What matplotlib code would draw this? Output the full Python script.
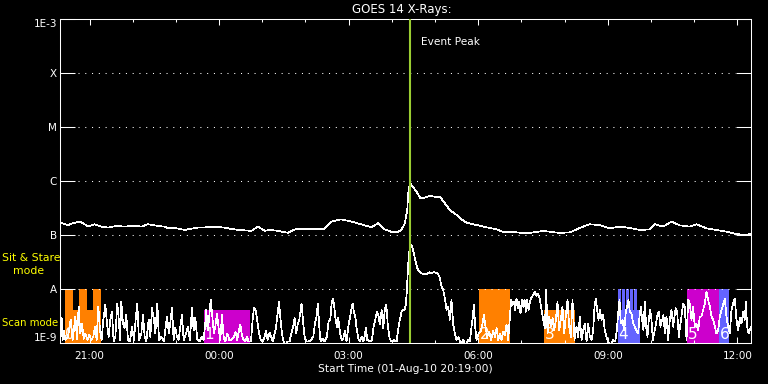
import matplotlib
matplotlib.use("Agg")
import matplotlib.pyplot as plt
from matplotlib.ticker import NullLocator
import numpy as np

# time axis: minutes after start (01-Aug-10 20:19:00)
# GOES long channel (1-8 A), flux in units of 1e-7 W/m^2
long_t = [0, 6.5, 11.1, 18.1, 27.3, 34.3, 38.9, 48.1, 57.4, 66.7,
          78.3, 89.8, 103.7, 113.0, 122.2, 136.1, 145.4, 150.0, 161.6, 173.2,
          182.4, 191.7, 205.6, 214.8, 228.7, 238.0, 249.6, 256.5, 265.8, 275.0,
          284.3, 293.5, 302.8, 316.7, 325.9, 335.2, 344.5, 358.4, 367.6, 376.9,
          390.8, 404.7, 418.5, 432.4, 441.7, 451.0, 460.2, 469.5, 474.1, 476.8,
          479.1, 482.4, 483.8, 486.1, 488.4, 495.4, 500.9, 506.9, 513.9, 520.8,
          527.8, 534.7, 541.7, 550.9, 557.9, 564.8, 578.7, 592.6, 606.5, 615.7,
          625.0, 634.2, 648.1, 662.0, 671.3, 680.6, 694.4, 708.3, 717.6, 726.9,
          736.1, 750.0, 763.9, 777.8, 791.7, 805.6, 819.4, 826.4, 838.0, 849.5,
          861.1, 875.0, 884.3, 898.1, 912.0, 925.9, 939.8, 956.0, 957.4, 960]
long_b = [1.70, 1.60, 1.53, 1.65, 1.77, 1.58, 1.43, 1.58, 1.43, 1.37,
          1.47, 1.43, 1.49, 1.43, 1.58, 1.47, 1.43, 1.33, 1.33, 1.24,
          1.31, 1.37, 1.39, 1.43, 1.37, 1.29, 1.24, 1.22, 1.19, 1.43,
          1.20, 1.24, 1.19, 1.10, 1.27, 1.31, 1.31, 1.27, 1.31, 1.77,
          1.95, 1.77, 1.58, 1.39, 1.65, 1.27, 1.15, 1.15, 1.24, 1.43,
          1.65, 2.90, 5.92, 9.06, 8.43, 6.34, 4.78, 4.95, 5.27, 5.12,
          5.12, 3.86, 2.90, 2.35, 1.95, 1.69, 1.53, 1.39, 1.27, 1.14,
          1.15, 1.12, 1.07, 1.14, 1.19, 1.15, 1.09, 1.12, 1.27, 1.43,
          1.58, 1.53, 1.33, 1.43, 1.35, 1.24, 1.27, 1.58, 1.43, 1.77,
          1.51, 1.43, 1.58, 1.33, 1.24, 1.15, 1.04, 1.00, 1.07, 1.00]

# GOES short channel (0.5-4 A), flux in units of 1e-9 W/m^2
short_t = [0, 0.9, 2.3, 3.7, 5.6, 7.4, 11.1, 14.8, 17.6, 21.3,
           23.6, 25.9, 28.2, 30.6, 32.9, 35.2, 38.0, 40.7, 43.5, 46.3,
           48.6, 50.9, 53.2, 55.6, 57.9, 60.2, 63.0, 65.3, 67.6, 69.9,
           72.2, 74.5, 76.9, 79.6, 81.9, 83.3, 85.2, 87.5, 89.8, 92.1,
           94.4, 97.2, 100.0, 102.8, 105.1, 107.4, 109.7, 113.0, 115.3, 117.6,
           119.9, 123.2, 125.5, 127.8, 130.6, 132.4, 135.2, 137.5, 140.7, 144.4,
           146.8, 148.6, 151.4, 153.7, 155.6, 157.9, 160.2, 162.5, 164.8, 167.1,
           169.4, 171.8, 174.5, 177.8, 180.5, 183.3, 185.7, 188.0, 190.8, 194.0,
           196.8, 199.5, 201.4, 203.3, 205.1, 207.0, 209.3, 211.6, 213.9, 215.7,
           218.1, 220.4, 222.7, 225.0, 227.3, 229.6, 232.4, 235.2, 238.4, 241.7,
           244.0, 246.3, 248.6, 250.5, 252.8, 255.1, 257.4, 259.7, 262.0, 265.3,
           267.6, 269.4, 271.7, 273.6, 275.9, 278.7, 281.5, 284.3, 286.1, 288.4,
           291.2, 293.5, 295.8, 298.1, 300.0, 302.3, 304.2, 306.0, 307.9, 309.7,
           312.5, 315.7, 319.0, 321.3, 323.6, 325.9, 328.2, 330.5, 332.4, 334.3,
           335.6, 338.0, 339.8, 342.1, 345.4, 348.6, 351.9, 354.2, 356.5, 358.3,
           360.2, 362.0, 364.8, 367.6, 370.8, 373.1, 375.5, 377.3, 379.2, 381.0,
           382.9, 384.7, 386.6, 388.9, 391.2, 393.5, 395.8, 398.1, 400.5, 402.3,
           404.6, 406.5, 408.3, 410.2, 412.0, 414.4, 416.7, 419.0, 421.3, 423.6,
           425.0, 426.9, 430.6, 433.3, 435.7, 438.0, 440.3, 442.6, 444.5, 446.8,
           449.1, 451.4, 453.3, 455.6, 457.9, 460.7, 463.9, 467.6, 470.4, 472.2,
           474.5, 476.9, 478.7, 480.5, 481.9, 483.3, 484.7, 487.0, 488.4, 490.7,
           493.0, 496.3, 499.1, 502.3, 505.5, 509.2, 512.9, 516.2, 519.4, 523.1,
           525.9, 527.8, 530.1, 532.4, 534.7, 537.0, 539.3, 541.6, 543.9, 546.3,
           548.6, 550.9, 553.7, 556.9, 560.2, 563.4, 566.7, 569.4, 571.7, 573.6,
           575.0, 576.8, 578.7, 581.5, 584.2, 587.0, 588.9, 591.2, 593.5, 596.3,
           599.1, 601.8, 604.2, 606.5, 608.8, 611.1, 613.4, 615.7, 618.0, 620.4,
           622.7, 625.0, 626.8, 628.7, 630.5, 632.4, 634.2, 636.1, 637.9, 639.8,
           641.7, 643.5, 645.4, 647.2, 649.1, 650.9, 652.8, 655.1, 657.4, 659.7,
           662.0, 664.3, 666.7, 669.0, 671.3, 673.6, 675.5, 677.3, 679.6, 682.0,
           684.3, 686.6, 688.9, 691.2, 693.5, 695.8, 698.1, 700.5, 702.8, 705.1,
           707.4, 709.7, 712.0, 714.8, 717.6, 719.9, 722.2, 724.5, 726.8, 729.1,
           731.5, 733.8, 736.1, 738.4, 740.7, 742.6, 744.4, 746.3, 748.1, 750.0,
           752.3, 754.6, 756.9, 759.2, 761.5, 764.8, 768.5, 771.3, 773.6, 775.4,
           777.3, 779.1, 781.5, 783.8, 786.1, 787.9, 789.8, 791.6, 794.0, 796.3,
           798.6, 800.9, 803.2, 805.1, 806.9, 808.8, 810.6, 812.5, 814.3, 816.2,
           818.0, 819.9, 821.7, 823.6, 825.4, 827.3, 829.6, 831.9, 834.2, 836.6,
           838.4, 840.3, 842.6, 844.9, 847.2, 849.5, 851.8, 853.7, 855.5, 857.4,
           859.7, 862.0, 863.9, 865.7, 868.0, 870.4, 872.7, 875.0, 877.3, 879.6,
           881.9, 884.2, 886.6, 888.9, 891.2, 893.5, 895.8, 898.1, 900.4, 902.8,
           905.1, 907.4, 909.7, 912.0, 914.3, 916.7, 919.0, 921.3, 923.6, 925.9,
           928.2, 930.5, 932.9, 935.2, 937.5, 939.8, 942.1, 944.4, 946.8, 949.1,
           951.4, 952.8, 954.6, 956.5, 960]
short_nw = [1.3, 1.3, 2.9, 1.14, 1.7, 1.14, 1.3, 2.7, 1.14, 3.1,
            1.2, 4.7, 1.5, 2.3, 1.2, 1.5, 1.14, 1.4, 1.14, 1.3,
            2.0, 1.14, 4.7, 1.7, 1.14, 2.7, 5.1, 2.3, 1.3, 2.7,
            3.8, 1.06, 1.3, 5.4, 2.5, 1.14, 5.8, 2.3, 1.9, 3.3,
            1.14, 1.06, 2.0, 1.14, 2.7, 5.4, 1.14, 1.5, 3.3, 1.3,
            1.06, 2.7, 1.3, 4.4, 2.7, 1.5, 5.4, 1.14, 1.3, 1.06,
            2.0, 3.1, 1.5, 2.7, 4.4, 1.14, 1.9, 1.3, 1.14, 2.0,
            3.3, 1.14, 1.4, 2.0, 1.14, 4.4, 1.7, 2.9, 1.14, 1.06,
            1.3, 1.14, 2.0, 4.1, 1.7, 2.7, 6.4, 3.1, 1.5, 2.0,
            3.5, 1.9, 1.14, 3.3, 1.3, 1.06, 1.5, 1.14, 1.14, 1.3,
            1.6, 1.14, 1.7, 2.2, 1.4, 1.14, 1.06, 1.3, 1.06, 1.06,
            2.7, 4.4, 4.1, 2.9, 1.7, 1.14, 1.06, 1.3, 1.7, 1.14,
            1.55, 1.3, 1.06, 1.5, 1.9, 3.5, 5.8, 3.1, 1.7, 1.2,
            0.9, 1.06, 1.06, 1.5, 1.9, 2.9, 1.5, 2.3, 2.7, 4.1,
            5.4, 2.3, 1.3, 1.06, 1.06, 1.14, 1.3, 2.3, 3.1, 5.4,
            2.0, 1.06, 1.2, 1.06, 1.3, 2.5, 2.7, 5.4, 6.7, 4.7,
            2.7, 2.0, 2.9, 1.6, 1.14, 1.2, 1.7, 1.06, 2.0, 2.7,
            4.1, 5.4, 3.8, 3.1, 1.9, 1.2, 1.06, 1.3, 1.06, 1.4,
            1.9, 1.14, 1.06, 1.14, 2.0, 2.7, 3.8, 3.1, 2.2, 4.1,
            1.9, 4.4, 5.1, 2.0, 1.2, 1.06, 1.14, 1.06, 2.0, 2.7,
            3.8, 4.1, 4.1, 5.1, 9.6, 22.5, 45.7, 60.8, 65.3, 51.3,
            37.0, 24.2, 20.9, 19.5, 19.0, 18.7, 20.4, 19.5, 20.7, 19.8,
            18.2, 15.8, 11.0, 9.6, 6.7, 4.1, 4.7, 2.7, 6.3, 2.2,
            1.5, 1.14, 1.3, 0.9, 1.14, 0.9, 1.14, 1.06, 2.0, 3.1,
            5.1, 2.0, 1.14, 1.5, 1.6, 2.3, 3.3, 2.0, 1.3, 1.6,
            1.14, 1.7, 1.3, 1.9, 1.14, 1.5, 1.14, 1.6, 1.4, 2.2,
            1.14, 2.9, 6.3, 5.1, 5.8, 4.1, 6.7, 4.4, 5.8, 3.5,
            6.3, 4.7, 6.4, 3.8, 6.3, 4.1, 5.8, 7.0, 7.7, 8.9,
            7.4, 8.3, 6.3, 4.1, 2.7, 1.9, 9.6, 1.5, 3.1, 2.0,
            2.9, 1.7, 2.7, 5.8, 1.7, 2.7, 4.7, 1.5, 3.3, 6.3,
            2.0, 1.3, 6.3, 1.14, 2.0, 1.3, 3.1, 1.14, 1.7, 2.3,
            1.06, 2.3, 1.3, 1.14, 1.7, 4.7, 6.7, 4.1, 2.7, 4.1,
            2.7, 3.3, 1.7, 1.3, 1.06, 0.9, 1.14, 1.06, 1.7, 3.5,
            6.3, 2.3, 2.7, 1.7, 3.8, 4.7, 6.3, 3.8, 3.5, 2.3,
            2.0, 1.7, 1.5, 3.1, 4.7, 2.7, 1.7, 5.8, 2.0, 1.3,
            2.7, 4.1, 2.7, 1.14, 1.5, 2.0, 3.1, 3.8, 2.0, 2.7,
            3.3, 1.5, 3.1, 1.14, 2.7, 4.1, 2.0, 3.1, 4.4, 3.8,
            1.3, 2.3, 3.5, 5.4, 4.7, 1.14, 6.3, 5.4, 2.7, 4.7,
            2.0, 2.3, 1.7, 3.1, 3.1, 4.1, 5.4, 8.9, 6.3, 4.7,
            3.1, 2.7, 2.0, 1.5, 1.7, 3.1, 4.1, 5.1, 6.7, 3.1,
            2.0, 1.5, 4.1, 5.4, 6.7, 2.7, 1.7, 2.9, 2.3, 3.8,
            2.7, 5.8, 2.0, 1.5, 2.0]

# instrument mode segments (minutes after start)
seg_start = [6.5, 6.5, 26.4, 45.8, 200, 582, 672,
             775, 775, 781, 786.5, 792, 798, 871, 916]
seg_end = [56.5, 18.1, 37.5, 56.5, 264, 625, 715,
           806, 779.5, 785, 790.5, 796.5, 802, 916, 929]
seg_mode = ["scan", "stare", "stare", "stare", "scan", "stare", "scan",
            "scan", "stare", "stare", "stare", "stare", "stare", "stare", "stare"]
seg_color = ["#ff8000", "#ff8000", "#ff8000", "#ff8000", "#cc00cc", "#ff8000", "#ff8000",
             "#6464ff", "#6464ff", "#6464ff", "#6464ff", "#6464ff", "#6464ff", "#cc00cc", "#6464ff"]
mode_top = {"scan": 4.1e-9, "stare": 1e-8}

block_t = [6.5, 200, 582, 672, 775, 871, 916]
block_num = ["0", "1", "2", "3", "4", "5", "6"]

peak_t = 486.1

ytick_vals = [1e-9, 1e-8, 1e-7, 1e-6, 1e-5, 1e-4, 1e-3]
ytick_labels = ["1E-9", "A", "B", "C", "M", "X", "1E-3"]
xtick_t = [41, 221, 401, 581, 761, 941]
xtick_labels = ["21:00", "00:00", "03:00", "06:00", "09:00", "12:00"]
xminor_t = list(range(41, 960, 60))

fig = plt.figure(figsize=(7.68, 3.84), dpi=100, facecolor="black")
ax = fig.add_axes([60 / 768, 41 / 384, 691 / 768, 324 / 384], facecolor="black")
ax.set_yscale("log")
ax.set_xlim(0, 960)
ax.set_ylim(1e-9, 1e-3)

for s, e, m, c in zip(seg_start, seg_end, seg_mode, seg_color):
    ax.bar(s, mode_top[m] - 1e-9, width=e - s, bottom=1e-9, align="edge",
           color=c, linewidth=0, zorder=1)

ax.hlines(ytick_vals[1:-1], 25, 938, colors="white", linewidth=0.75,
          linestyles=(0, (1, 5.5)), zorder=2)

ax.plot(long_t, np.array(long_b) * 1e-7, color="white", lw=0.5,
        antialiased=False, zorder=3)
ax.plot(short_t, np.array(short_nw) * 1e-9, color="white", lw=0.5,
        antialiased=False, zorder=3)

for t, n in zip(block_t, block_num):
    ax.text(t + 1, 1.2e-9, n, color="white", fontsize=11, ha="left",
            va="baseline", zorder=4)

ax.axvline(peak_t, color="#9acd32", lw=1.5, zorder=5)
ax.text(peak_t + 15, 3.7e-4, "Event Peak", color="white", fontsize=7.6,
        ha="left", va="center")

ax.set_yticks(ytick_vals, ytick_labels)
ax.yaxis.set_minor_locator(NullLocator())
ax.tick_params(axis="y", which="major", direction="in", length=10.8, width=0.75,
               colors="white", left=True, right=True, labelsize=7.5, pad=2.2)
labs = ax.get_yticklabels()
labs[0].set_va("bottom")
labs[-1].set_va("top")

ax.set_xticks(xtick_t, xtick_labels)
ax.set_xticks(xminor_t, minor=True)
ax.tick_params(axis="x", which="major", direction="in", length=4.5, width=0.75,
               colors="white", top=True, bottom=True, labelsize=7.5, pad=5.5)
ax.tick_params(axis="x", which="minor", direction="in", length=2.4, width=0.75,
               colors="white", top=True, bottom=True)

for sp in ax.spines.values():
    sp.set_color("white")
    sp.set_linewidth(0.75)

fig.text(402 / 768, 1 - 9.5 / 384, "GOES 14 X-Rays:", ha="center", va="center",
         color="white", fontsize=8.5)
fig.text(405 / 768, 1 - 368.5 / 384, "Start Time (01-Aug-10 20:19:00)",
         ha="center", va="center", color="white", fontsize=7.7)
fig.text(2 / 768, 1 - 258 / 384, "Sit & Stare", ha="left", va="center",
         color="yellow", fontsize=7.8)
fig.text(13 / 768, 1 - 271 / 384, "mode", ha="left", va="center",
         color="yellow", fontsize=7.8)
fig.text(2 / 768, 1 - 323 / 384, "Scan mode", ha="left", va="center",
         color="yellow", fontsize=7.3)

fig.savefig("out.png", dpi=100, facecolor="black")
